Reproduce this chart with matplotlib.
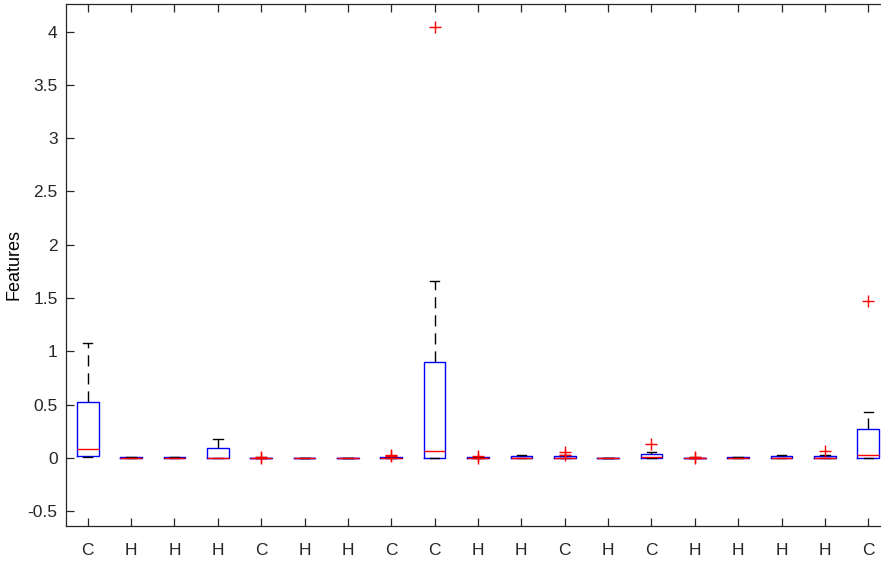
import matplotlib
matplotlib.use("Agg")
import matplotlib.pyplot as plt

# group labels along x
labels = ["C", "H", "H", "H", "C", "H", "H", "C", "C", "H",
          "H", "C", "H", "C", "H", "H", "H", "H", "C"]

# box statistics
q1 = [0.02, 0, 0, 0, 0, 0, 0, 0, 0, 0, 0, 0, 0, 0, 0, 0, 0, 0, 0]
med = [0.08, 0, 0, 0, 0, 0, 0, 0, 0.06, 0, 0, 0, 0, 0.005, 0, 0, 0, 0, 0.03]
q3 = [0.52, 0.005, 0.005, 0.09, 0.0, 0, 0, 0.01, 0.90, 0.005,
      0.02, 0.015, 0, 0.04, 0, 0.005, 0.02, 0.015, 0.27]
whishi = [1.08, 0.01, 0.01, 0.18, 0.005, 0, 0, 0.015, 1.66, 0.01,
          0.025, 0.025, 0, 0.05, 0.005, 0.01, 0.025, 0.025, 0.43]
whislo = [0.01, 0, 0, 0, 0, 0, 0, 0, 0, 0, 0, 0, 0, 0, 0, 0, 0, 0, 0]
fliers = [[], [], [], [], [0.01, 0.0], [], [], [0.02, 0.03], [4.04], [0.02, 0.0],
          [], [0.05, 0.03], [], [0.13], [0.0, 0.01], [], [], [0.06], [1.47]]

stats = []
for i in range(len(labels)):
    stats.append(dict(q1=q1[i], med=med[i], q3=q3[i], whislo=whislo[i],
                      whishi=whishi[i], fliers=fliers[i], label=labels[i]))

plt.rcParams['font.family'] = ['Liberation Sans']
fig = plt.figure(figsize=(8.81, 5.64), dpi=100)
ax = fig.add_axes([66 / 881, 38 / 564, 824 / 881, 522 / 564])

pos = list(range(1, len(labels) + 1))
ax.bxp(stats, positions=pos, widths=0.5, capwidths=0.22,
       boxprops=dict(color="#0000ff", linewidth=1.0),
       medianprops=dict(color="#ff0000", linewidth=1.0),
       whiskerprops=dict(color="black", linewidth=1.0, linestyle=(0, (8, 5))),
       capprops=dict(color="black", linewidth=1.0),
       flierprops=dict(marker="+", markeredgecolor="#ff0000", markersize=9,
                       markeredgewidth=1.0, linestyle="none"))

ax.set_xlim(0.5, 19.5)
ax.set_ylim(-0.64, 4.26)
ax.set_yticks([-0.5, 0, 0.5, 1, 1.5, 2, 2.5, 3, 3.5, 4])
ax.set_yticklabels(["-0.5", "0", "0.5", "1", "1.5", "2", "2.5", "3", "3.5", "4"])
ax.set_xticks(pos)
ax.set_xticklabels(labels)

for s in ax.spines.values():
    s.set_color("#262626")
    s.set_linewidth(0.9)
ax.tick_params(direction="in", top=True, right=True, length=6, width=0.9,
               color="#262626", labelcolor="#262626", labelsize=12.5)
ax.tick_params(axis="x", pad=12)
ax.tick_params(axis="y", pad=6)

ax.set_ylabel("Features", fontsize=13, color="black", labelpad=4)

fig.savefig("out.png", dpi=100)
